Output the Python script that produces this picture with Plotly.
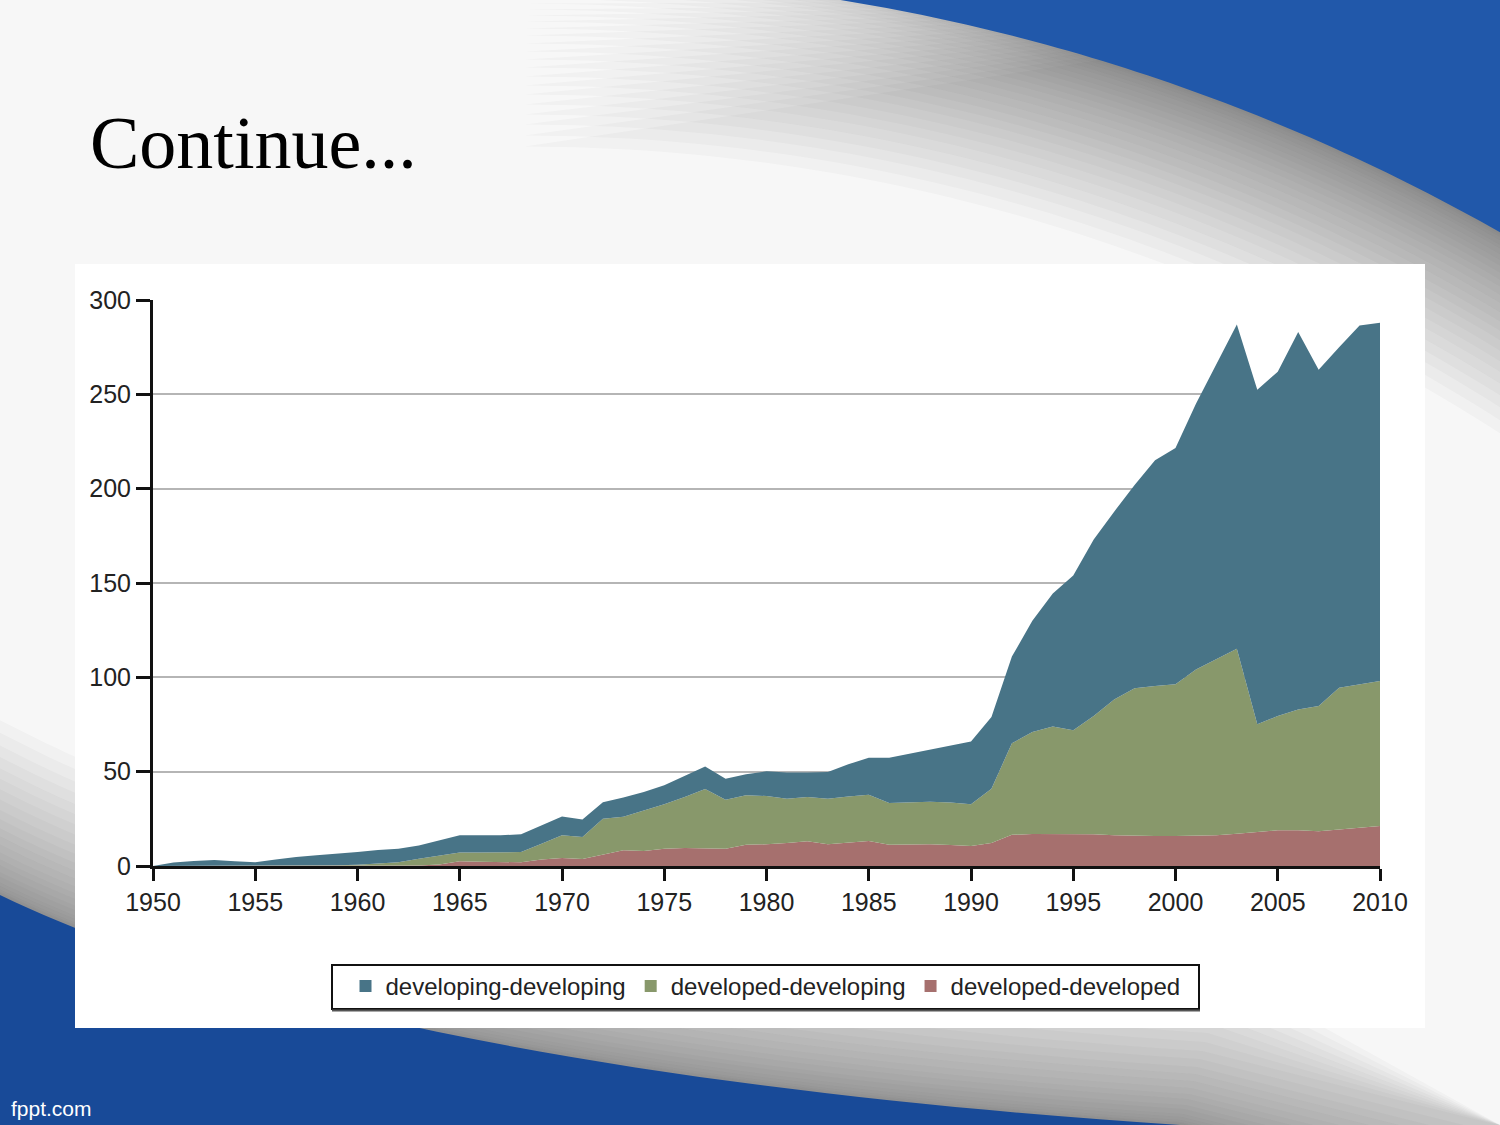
import math
import plotly.graph_objects as go

# ---------------- data ----------------
years = list(range(1950, 2011))

developed_developed = [
    0, 0, 0, 0, 0, 0, 0, 0, 0, 0,
    0, 0, 0.2, 0.3, 0.8, 2.5, 2.2, 2.0, 2.0, 3.4,
    4.2, 3.7, 6.0, 8.3, 8.0, 9.2, 9.5, 9.4, 9.2, 11.3,
    11.5, 12.2, 13.1, 11.5, 12.2, 13.3, 11.3, 11.3, 11.5, 11.1,
    10.6, 12.2, 16.5, 17.0, 17.0, 16.8, 16.8, 16.3, 15.9, 15.9,
    15.9, 15.9, 16.3, 17.1, 18.0, 18.9, 18.9, 18.4, 19.4, 20.3,
    21.2,
]

developed_developing = [
    0, 0, 0, 0, 0, 0, 0, 0, 0.2, 0.4,
    0.7, 1.4, 1.8, 3.6, 4.9, 4.6, 4.9, 5.1, 5.4, 8.4,
    12.1, 11.7, 19.1, 17.8, 21.5, 23.5, 27.1, 31.4, 25.9, 26.2,
    25.6, 23.5, 23.5, 24.2, 24.7, 24.5, 22.1, 22.6, 22.6, 22.6,
    22.1, 28.8, 48.5, 54.0, 57.0, 55.2, 62.7, 72.0, 78.3, 79.5,
    80.4, 88.3, 93.6, 98.1, 57.1, 60.6, 64.1, 66.4, 75.1, 76.0,
    76.8,
]

developing_developing = [
    0, 1.8, 2.7, 3.2, 2.5, 2.0, 3.4, 4.8, 5.5, 6.1,
    6.7, 7.1, 7.2, 6.9, 7.9, 9.2, 9.2, 9.2, 9.4, 9.8,
    10.0, 9.2, 8.7, 10.2, 9.7, 10.1, 11.4, 12.0, 11.2, 11.1,
    13.1, 13.8, 12.9, 14.1, 17.0, 19.6, 24.0, 25.6, 27.5, 30.3,
    33.3, 38.0, 46.0, 59.0, 70.4, 82.0, 93.5, 99.5, 107.8, 119.6,
    125.2, 140.8, 155.7, 171.8, 177.3, 182.5, 200.0, 178.2, 180.5, 190.2,
    190.0,
]

series_names = ["developing-developing", "developed-developing", "developed-developed"]
series_colors = {
    "developing-developing": "#487487",
    "developed-developing": "#88986b",
    "developed-developed": "#a6706e",
}
x_ticks = [1950, 1955, 1960, 1965, 1970, 1975, 1980, 1985, 1990, 1995, 2000, 2005, 2010]
y_ticks = [0, 50, 100, 150, 200, 250, 300]
title_text = "Continue..."
footer_text = "fppt.com"

# ---------------- geometry helpers (slide decoration) ----------------
W, H = 1500, 1125


def fx(x):
    return min(max(x, 0), W) / W


def fy(y):
    return 1 - min(max(y, 0), H) / H


def poly_path(pts):
    s = "M %.5f,%.5f" % (fx(pts[0][0]), fy(pts[0][1]))
    for (x, y) in pts[1:]:
        s += " L %.5f,%.5f" % (fx(x), fy(y))
    return s + " Z"


def path_from(cmds):
    out = []
    for c in cmds:
        s = c[0]
        for (x, y) in c[1:]:
            s += " %.5f,%.5f" % (fx(x), fy(y))
        out.append(s)
    return " ".join(out) + " Z"


# top-right swoosh: region outside a big circle
CX, CY, R0 = 524.8, 1948.6, 1974.0


def top_right(d):
    r = R0 - d
    phi0 = math.acos(min(1.0, CY / r))
    phi1 = math.asin(min(1.0, (W - CX) / r))
    pts = []
    n = 60
    for i in range(n + 1):
        p = phi0 + (phi1 - phi0) * i / n
        pts.append((CX + r * math.sin(p), CY - r * math.cos(p)))
    pts.append((W, 0))
    return poly_path(pts)


def bottom_left(d):
    dx, dy = d * 0.3, -d
    return path_from([
        ("M", (0, 895 + dy - 0.15 * d)),
        ("L", (0 + dx, 895 + dy)),
        ("C", (300 + dx, 1040 + dy), (800 + dx, 1100 + dy), (1180 + dx, 1125 + dy)),
        ("L", (1180 + dx + d * 4.0, 1125)),
        ("L", (0, 1125)),
    ])


shapes = []
# soft grey shadows next to the blue swooshes (many faint layers -> gradient)
top_offsets = [int(2 + 170 * (i / 25.0) ** 1.6) for i in range(26)]
for d in sorted(set(top_offsets), reverse=True):
    shapes.append(dict(type="path", xref="paper", yref="paper", path=top_right(d),
                       fillcolor="rgba(70,70,70,0.03)", line=dict(width=0), layer="below"))
bottom_offsets = [int(2 + 150 * (i / 22.0) ** 1.6) for i in range(23)]
for d in sorted(set(bottom_offsets), reverse=True):
    shapes.append(dict(type="path", xref="paper", yref="paper", path=bottom_left(d),
                       fillcolor="rgba(70,70,70,0.03)", line=dict(width=0), layer="below"))
# blue swooshes
shapes.append(dict(type="path", xref="paper", yref="paper", path=top_right(0),
                   fillcolor="#2158aa", line=dict(width=0), layer="below"))
shapes.append(dict(type="path", xref="paper", yref="paper", path=bottom_left(0),
                   fillcolor="#184a98", line=dict(width=0), layer="below"))
# white chart panel
shapes.append(dict(type="rect", xref="paper", yref="paper",
                   x0=fx(75), x1=fx(1425), y0=fy(1028), y1=fy(264),
                   fillcolor="white", line=dict(width=0), layer="below"))
# legend frame
shapes.append(dict(type="rect", xref="paper", yref="paper",
                   x0=fx(332), x1=fx(1199), y0=fy(1009), y1=fy(965),
                   fillcolor="white", line=dict(width=2, color="#111111"), layer="below"))
shapes.append(dict(type="line", xref="paper", yref="paper",
                   x0=fx(332), x1=fx(1200), y0=fy(1010.5), y1=fy(1010.5),
                   line=dict(width=2, color="#555555"), layer="below"))

# ---------------- figure ----------------
fig = go.Figure()

stack_order = [
    ("developed-developed", developed_developed),
    ("developed-developing", developed_developing),
    ("developing-developing", developing_developing),
]
for name, vals in stack_order:
    fig.add_trace(go.Scatter(
        x=years, y=vals, name=name, mode="lines", stackgroup="one",
        line=dict(width=0, color=series_colors[name]),
        fillcolor=series_colors[name], showlegend=False, hoverinfo="x+y+name",
    ))

# legend entries (square swatches)
for name in series_names:
    fig.add_trace(go.Scatter(
        x=[None], y=[None], name=name, mode="markers",
        marker=dict(symbol="square", size=12, color=series_colors[name]),
        showlegend=True,
    ))

tick_font = dict(family="Liberation Sans, Arial, sans-serif", size=25, color="#222222")

fig.update_layout(
    width=W, height=H,
    margin=dict(l=0, r=0, t=0, b=0, pad=0, autoexpand=False),
    paper_bgcolor="#f7f7f7",
    plot_bgcolor="rgba(0,0,0,0)",
    shapes=shapes,
    showlegend=True,
    legend=dict(
        orientation="h", x=fx(765.5), xanchor="center", y=fy(964), yanchor="top",
        bgcolor="rgba(0,0,0,0)", borderwidth=0,
        font=dict(family="Liberation Sans, Arial, sans-serif", size=24, color="#222222"),
        traceorder="normal", itemsizing="constant",
    ),
    xaxis=dict(
        domain=[fx(153), fx(1380)], range=[1950, 2010],
        tickmode="array", tickvals=x_ticks, ticktext=[str(t) for t in x_ticks],
        ticks="outside", ticklen=12, tickwidth=3, tickcolor="#111111",
        showline=True, linecolor="#111111", linewidth=3,
        showgrid=False, zeroline=False, tickfont=tick_font, fixedrange=True,
        automargin=False,
    ),
    yaxis=dict(
        domain=[fy(866), fy(300)], range=[0, 300],
        tickmode="array", tickvals=y_ticks, ticktext=[str(t) for t in y_ticks],
        ticks="outside", ticklen=14, tickwidth=3, tickcolor="#111111",
        showline=True, linecolor="#111111", linewidth=3,
        showgrid=True, gridcolor="#b5b5b5", gridwidth=1.5,
        zeroline=False, tickfont=tick_font, fixedrange=True,
        automargin=False,
    ),
    annotations=[
        dict(text=title_text, xref="paper", yref="paper", x=fx(88), y=fy(143),
             xanchor="left", yanchor="middle", showarrow=False,
             font=dict(family="Liberation Serif, Times New Roman, serif", size=74, color="#000000")),
        dict(text=footer_text, xref="paper", yref="paper", x=fx(9), y=fy(1108),
             xanchor="left", yanchor="middle", showarrow=False,
             font=dict(family="Liberation Sans Narrow, Liberation Sans, Arial, sans-serif", size=21, color="#ffffff")),
    ],
)

fig.write_html("out.html")
